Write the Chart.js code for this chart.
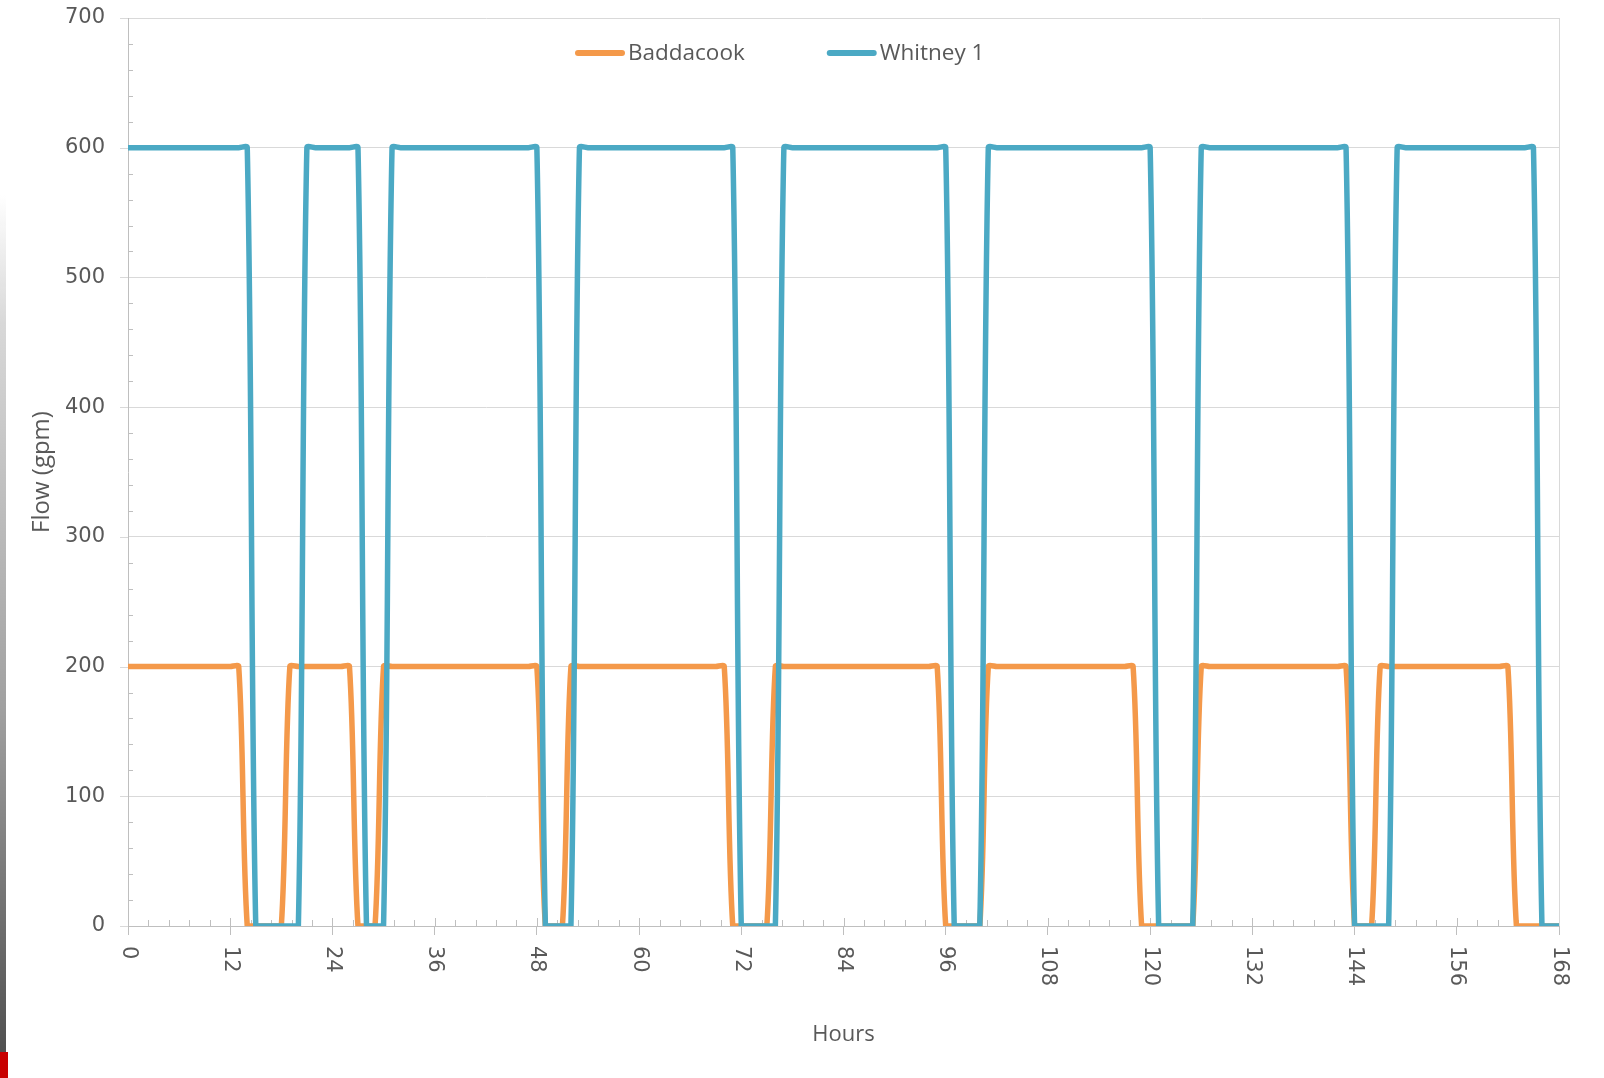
<!DOCTYPE html>
<html>
<head>
<meta charset="utf-8">
<script src="https://cdn.jsdelivr.net/npm/chart.js@4.4.1/dist/chart.umd.min.js"></script>
<style>
  html, body { margin: 0; padding: 0; background: #ffffff; overflow: hidden; }
  #wrap { position: relative; width: 1604px; height: 1078px; }
  canvas { display: block; }
  #edge { position: absolute; left: 0; top: 195px; width: 6px; height: 857px;
          background: linear-gradient(to bottom, rgba(255,255,255,0) 0%, #d8d8d8 15%, #a0a0a0 60%, #505050 100%); }
  #red { position: absolute; left: 0; top: 1052px; width: 8px; height: 26px; background: #c80000; }
</style>
</head>
<body>
<div id="wrap">
  <canvas id="c" width="1604" height="1078"></canvas>
  <div id="edge"></div>
  <div id="red"></div>
</div>
<script>
// ---- data (hourly values) ----
const hours = [
  0,1,2,3,4,5,6,7,8,9,10,11,
  12,13,14,15,16,17,18,19,20,21,22,23,
  24,25,26,27,28,29,30,31,32,33,34,35,
  36,37,38,39,40,41,42,43,44,45,46,47,
  48,49,50,51,52,53,54,55,56,57,58,59,
  60,61,62,63,64,65,66,67,68,69,70,71,
  72,73,74,75,76,77,78,79,80,81,82,83,
  84,85,86,87,88,89,90,91,92,93,94,95,
  96,97,98,99,100,101,102,103,104,105,106,107,
  108,109,110,111,112,113,114,115,116,117,118,119,
  120,121,122,123,124,125,126,127,128,129,130,131,
  132,133,134,135,136,137,138,139,140,141,142,143,
  144,145,146,147,148,149,150,151,152,153,154,155,
  156,157,158,159,160,161,162,163,164,165,166,167,
  168
];
const baddacook = [
  200,200,200,200,200,200,200,200,200,200,200,200,
  200,200,0,0,0,0,0,200,200,200,200,200,
  200,200,200,0,0,0,200,200,200,200,200,200,
  200,200,200,200,200,200,200,200,200,200,200,200,
  200,0,0,0,200,200,200,200,200,200,200,200,
  200,200,200,200,200,200,200,200,200,200,200,0,
  0,0,0,0,200,200,200,200,200,200,200,200,
  200,200,200,200,200,200,200,200,200,200,200,200,
  0,0,0,0,0,200,200,200,200,200,200,200,
  200,200,200,200,200,200,200,200,200,200,200,0,
  0,0,0,0,0,0,200,200,200,200,200,200,
  200,200,200,200,200,200,200,200,200,200,200,200,
  0,0,0,200,200,200,200,200,200,200,200,200,
  200,200,200,200,200,200,200,0,0,0,0,0,
  0
];
const whitney1 = [
  600,600,600,600,600,600,600,600,600,600,600,600,
  600,600,600,0,0,0,0,0,0,600,600,600,
  600,600,600,600,0,0,0,600,600,600,600,600,
  600,600,600,600,600,600,600,600,600,600,600,600,
  600,0,0,0,0,600,600,600,600,600,600,600,
  600,600,600,600,600,600,600,600,600,600,600,600,
  0,0,0,0,0,600,600,600,600,600,600,600,
  600,600,600,600,600,600,600,600,600,600,600,600,
  600,0,0,0,0,600,600,600,600,600,600,600,
  600,600,600,600,600,600,600,600,600,600,600,600,
  600,0,0,0,0,0,600,600,600,600,600,600,
  600,600,600,600,600,600,600,600,600,600,600,600,
  0,0,0,0,0,600,600,600,600,600,600,600,
  600,600,600,600,600,600,600,600,600,600,0,0,
  0
];
const seriesNames = ['Baddacook', 'Whitney 1'];
const xTickLabels = [0, 12, 24, 36, 48, 60, 72, 84, 96, 108, 120, 132, 144, 156, 168];
const yTickLabels = [0, 100, 200, 300, 400, 500, 600, 700];
const xMinorStep = 2.4;
const yMinorStep = 20;

// ---- styles ----
const COLORS = ['#F4994A', '#4BA9C4'];
const TEXT = '#595959';
const GRID = '#d9d9d9';
const AXIS = '#bfbfbf';

const decorPlugin = {
  id: 'decor',
  beforeDatasetsDraw(chart) {
    const { ctx, scales: { x, y } } = chart;
    ctx.save();
    ctx.lineWidth = 1;
    // y major ticks outside the axis
    ctx.strokeStyle = GRID;
    ctx.beginPath();
    y.ticks.forEach(t => {
      const py = Math.round(y.getPixelForValue(t.value)) + 0.5;
      ctx.moveTo(y.right - 8, py);
      ctx.lineTo(y.right, py);
    });
    ctx.stroke();
    // minor ticks inside
    ctx.strokeStyle = AXIS;
    ctx.beginPath();
    const nx = Math.round(x.max / xMinorStep);
    for (let k = 1; k < nx; k++) {
      const px = Math.round(x.getPixelForValue(k * xMinorStep)) + 0.5;
      const len = (k % 5 === 0) ? 8 : 6;
      ctx.moveTo(px, x.top);
      ctx.lineTo(px, x.top - len);
    }
    const ny = Math.round(y.max / yMinorStep);
    for (let k = 1; k < ny; k++) {
      if (k % 5 === 0) continue;
      const py = Math.round(y.getPixelForValue(k * yMinorStep)) + 0.5;
      ctx.moveTo(y.right, py);
      ctx.lineTo(y.right + 5, py);
    }
    ctx.stroke();
    ctx.restore();
  },
  afterDraw(chart) {
    const { ctx, scales: { x } } = chart;
    ctx.save();
    // rotated x tick labels (reading top to bottom)
    ctx.fillStyle = TEXT;
    ctx.font = '21px "DejaVu Sans"';
    ctx.textAlign = 'left';
    ctx.textBaseline = 'middle';
    xTickLabels.forEach(v => {
      const px = x.getPixelForValue(v);
      ctx.save();
      ctx.translate(px, x.top + 20);
      ctx.rotate(Math.PI / 2);
      ctx.fillText(String(v), 0, 0);
      ctx.restore();
    });
    // legend inside plot area
    ctx.font = '22.5px "Open Sans"';
    let lx = 575;
    const ly = 54;
    chart.data.datasets.forEach((ds, i) => {
      ctx.strokeStyle = ds.borderColor;
      ctx.lineWidth = 6;
      ctx.lineCap = 'round';
      ctx.beginPath();
      ctx.moveTo(lx + 3, ly - 1);
      ctx.lineTo(lx + 47, ly - 1);
      ctx.stroke();
      ctx.fillStyle = TEXT;
      ctx.fillText(ds.label, lx + 53, ly);
      lx += 53 + ctx.measureText(ds.label).width + 82;
    });
    ctx.restore();
  }
};

new Chart(document.getElementById('c'), {
  type: 'line',
  data: {
    labels: hours,
    datasets: [
      { label: seriesNames[0], data: baddacook, borderColor: COLORS[0], backgroundColor: COLORS[0],
        borderWidth: 5.5, pointRadius: 0, tension: 0.3, fill: false, order: 1,
        borderJoinStyle: 'round', borderCapStyle: 'round', clip: { left: 0, top: 6, right: 0, bottom: 0 } },
      { label: seriesNames[1], data: whitney1, borderColor: COLORS[1], backgroundColor: COLORS[1],
        borderWidth: 5.5, pointRadius: 0, tension: 0.3, fill: false, order: 0,
        borderJoinStyle: 'round', borderCapStyle: 'round', clip: { left: 0, top: 6, right: 0, bottom: 0 } }
    ]
  },
  options: {
    responsive: false,
    animation: false,
    devicePixelRatio: 1,
    layout: { padding: { left: 0, right: 45, top: 18, bottom: 0 } },
    plugins: { legend: { display: false }, tooltip: { enabled: false } },
    scales: {
      x: {
        type: 'linear', min: 0, max: 168,
        afterBuildTicks: s => { s.ticks = xTickLabels.map(v => ({ value: v })); },
        afterFit: s => { s.height = 152; },
        ticks: { display: false },
        grid: {
          drawOnChartArea: true,
          color: c => (c.tick && c.tick.value === 168) ? GRID : 'rgba(0,0,0,0)',
          tickColor: AXIS, tickLength: 9, lineWidth: 1
        },
        border: { color: AXIS, width: 1 },
        title: { display: true, text: 'Hours', color: TEXT,
                 font: { family: 'Open Sans', size: 22 }, padding: { top: 0, bottom: 30 } }
      },
      y: {
        type: 'linear', min: 0, max: 700,
        afterBuildTicks: s => { s.ticks = yTickLabels.map(v => ({ value: v })); },
        afterFit: s => { s.width = 128; },
        ticks: { color: TEXT, font: { family: 'DejaVu Sans', size: 21 }, padding: 3 },
        grid: { color: GRID, tickColor: 'rgba(0,0,0,0)', tickLength: 20, lineWidth: 1 },
        border: { color: AXIS, width: 1 },
        title: { display: true, text: 'Flow (gpm)', color: TEXT,
                 font: { family: 'Open Sans', size: 24 }, padding: { top: 28, bottom: 0 } }
      }
    }
  },
  plugins: [decorPlugin]
});
</script>
</body>
</html>
